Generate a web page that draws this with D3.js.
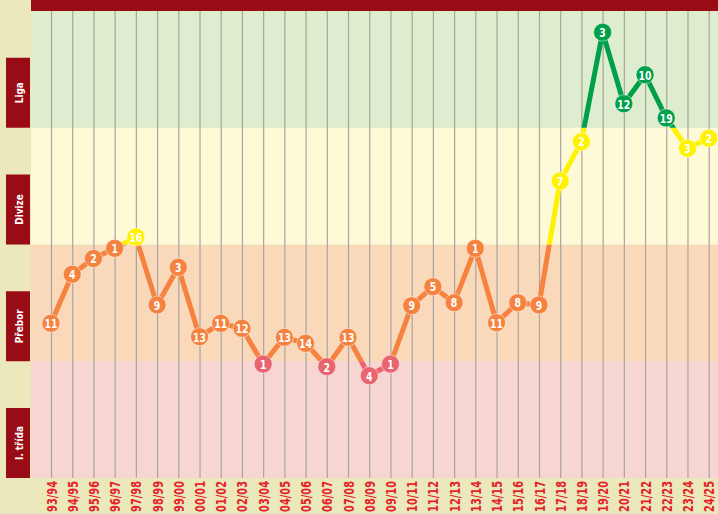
<!DOCTYPE html>
<html lang="cs">
<head>
<meta charset="utf-8">
<title>Historie soutěží</title>
<style>
  body { margin: 0; background: #ebe8bb; }
  svg { display: block; }
  .cond { font-family: "DejaVu Sans Condensed", "Liberation Sans Narrow", "DejaVu Sans", sans-serif; font-stretch: condensed; font-weight: bold; }
  .bandLabel { fill: #fff; font-size: 11px; text-anchor: middle; }
  .tick text { fill: #e5222a; font-size: 14px; }
  .place { fill: #fff; font-size: 13px; text-anchor: middle; }
</style>
</head>
<body>
<div id="chart"></div>
<script src="https://cdn.jsdelivr.net/npm/d3@7"></script>
<script>

var seasons = ["93/94","94/95","95/96","96/97","97/98","98/99","99/00","00/01","01/02","02/03",
               "03/04","04/05","05/06","06/07","07/08","08/09","09/10","10/11","11/12","12/13",
               "13/14","14/15","15/16","16/17","17/18","18/19","19/20","20/21","21/22","22/23",
               "23/24","24/25"];

// final placing in the season
var places = [11,4,2,1,16,9,3,13,11,12,1,13,14,2,13,4,1,9,5,8,1,11,8,9,7,2,3,12,10,19,3,2];

// vertical level: 0-1 I. třída, 1-2 Přebor, 2-3 Divize, 3-4 Liga
var levels = [1.325,1.745,1.88,1.967,2.064,1.482,1.805,1.21,1.325,1.282,
              0.976,1.205,1.154,0.953,1.205,0.876,0.976,1.476,1.639,1.502,
              1.967,1.33,1.502,1.482,2.544,2.881,3.818,3.206,3.454,3.084,
              2.824,2.91];

var bands = ["I. třída", "Přebor", "Divize", "Liga"];
var bandFill = ["#f7d5d3", "#fad9bb", "#fefad7", "#dfedcf"];
var bandLine = ["#e9646e", "#f5833f", "#fff200", "#00a04a"];

var width = 718, height = 514;
var plotLeft = 31, plotRight = 718, plotTop = 11, plotBottom = 478;

var svg = d3.select("#chart").append("svg")
    .attr("width", width)
    .attr("height", height);

var x = d3.scalePoint().domain(seasons).range([51, 708.7]);
var y = d3.scaleLinear().domain([0, 4]).range([plotBottom, plotTop]);

// top bar
svg.append("rect")
   .attr("x", plotLeft).attr("y", 0)
   .attr("width", plotRight - plotLeft).attr("height", plotTop)
   .attr("fill", "#9a0c15");

// band backgrounds
svg.selectAll("rect.band")
   .data(bands)
   .enter()
   .append("rect")
   .attr("class", "band")
   .attr("x", plotLeft)
   .attr("width", plotRight - plotLeft)
   .attr("y", function(d, i){ return y(i + 1); })
   .attr("height", function(d, i){ return y(i) - y(i + 1); })
   .attr("fill", function(d, i){ return bandFill[i]; });

// band label boxes
var labels = svg.selectAll("g.bandBox")
   .data(bands)
   .enter()
   .append("g")
   .attr("class", "bandBox")
   .attr("transform", function(d, i){ return "translate(6," + (y(i) - 70) + ")"; });

labels.append("rect")
   .attr("width", 24)
   .attr("height", 70)
   .attr("fill", "#9a0c15");

labels.append("text")
   .attr("class", "bandLabel cond")
   .attr("transform", "translate(16.5,35) rotate(-90) scale(0.9,1)")
   .text(function(d){ return d; });

// x axis (gridlines + rotated labels)
var xAxis = d3.axisBottom(x)
   .tickSize(-(plotBottom - plotTop))
   .tickPadding(3);

var gx = svg.append("g")
   .attr("class", "x axis")
   .attr("transform", "translate(0," + plotBottom + ")")
   .call(xAxis);

gx.select(".domain").remove();
gx.selectAll(".tick line")
  .attr("stroke", "#a9a49f")
  .attr("stroke-width", 1.2);
gx.selectAll(".tick text")
  .attr("class", "cond")
  .attr("transform", "rotate(-90) translate(-3,0) scale(0.78,1)")
  .attr("x", 0)
  .attr("y", 0)
  .attr("dy", "0.36em")
  .style("text-anchor", "end");

// line, clipped by band and coloured per band
var line = d3.line()
   .x(function(d, i){ return x(seasons[i]); })
   .y(function(d){ return y(d); });

bands.forEach(function(b, i){
  svg.append("clipPath")
     .attr("id", "clip" + i)
     .append("rect")
     .attr("x", 0)
     .attr("width", width)
     .attr("y", i === 3 ? 0 : y(i + 1))
     .attr("height", i === 0 ? height - y(i + 1) : y(i) - y(i + 1) + (i === 3 ? plotTop : 0));

  svg.append("path")
     .datum(levels)
     .attr("d", line)
     .attr("clip-path", "url(#clip" + i + ")")
     .attr("fill", "none")
     .attr("stroke", bandLine[i])
     .attr("stroke-width", 5)
     .attr("stroke-linejoin", "round");
});

// markers
var marks = svg.selectAll("g.mark")
   .data(levels)
   .enter()
   .append("g")
   .attr("class", "mark")
   .attr("transform", function(d, i){ return "translate(" + x(seasons[i]) + "," + y(d) + ")"; });

marks.append("circle")
   .attr("r", 9)
   .attr("fill", function(d){ return bandLine[Math.min(3, Math.floor(d))]; })
   .attr("stroke", "rgba(255,255,255,0.45)")
   .attr("stroke-width", 1);

marks.append("text")
   .attr("class", "place cond")
   .attr("transform", "scale(0.8,1)")
   .attr("dy", "0.37em")
   .text(function(d, i){ return places[i]; });

</script>
</body>
</html>
